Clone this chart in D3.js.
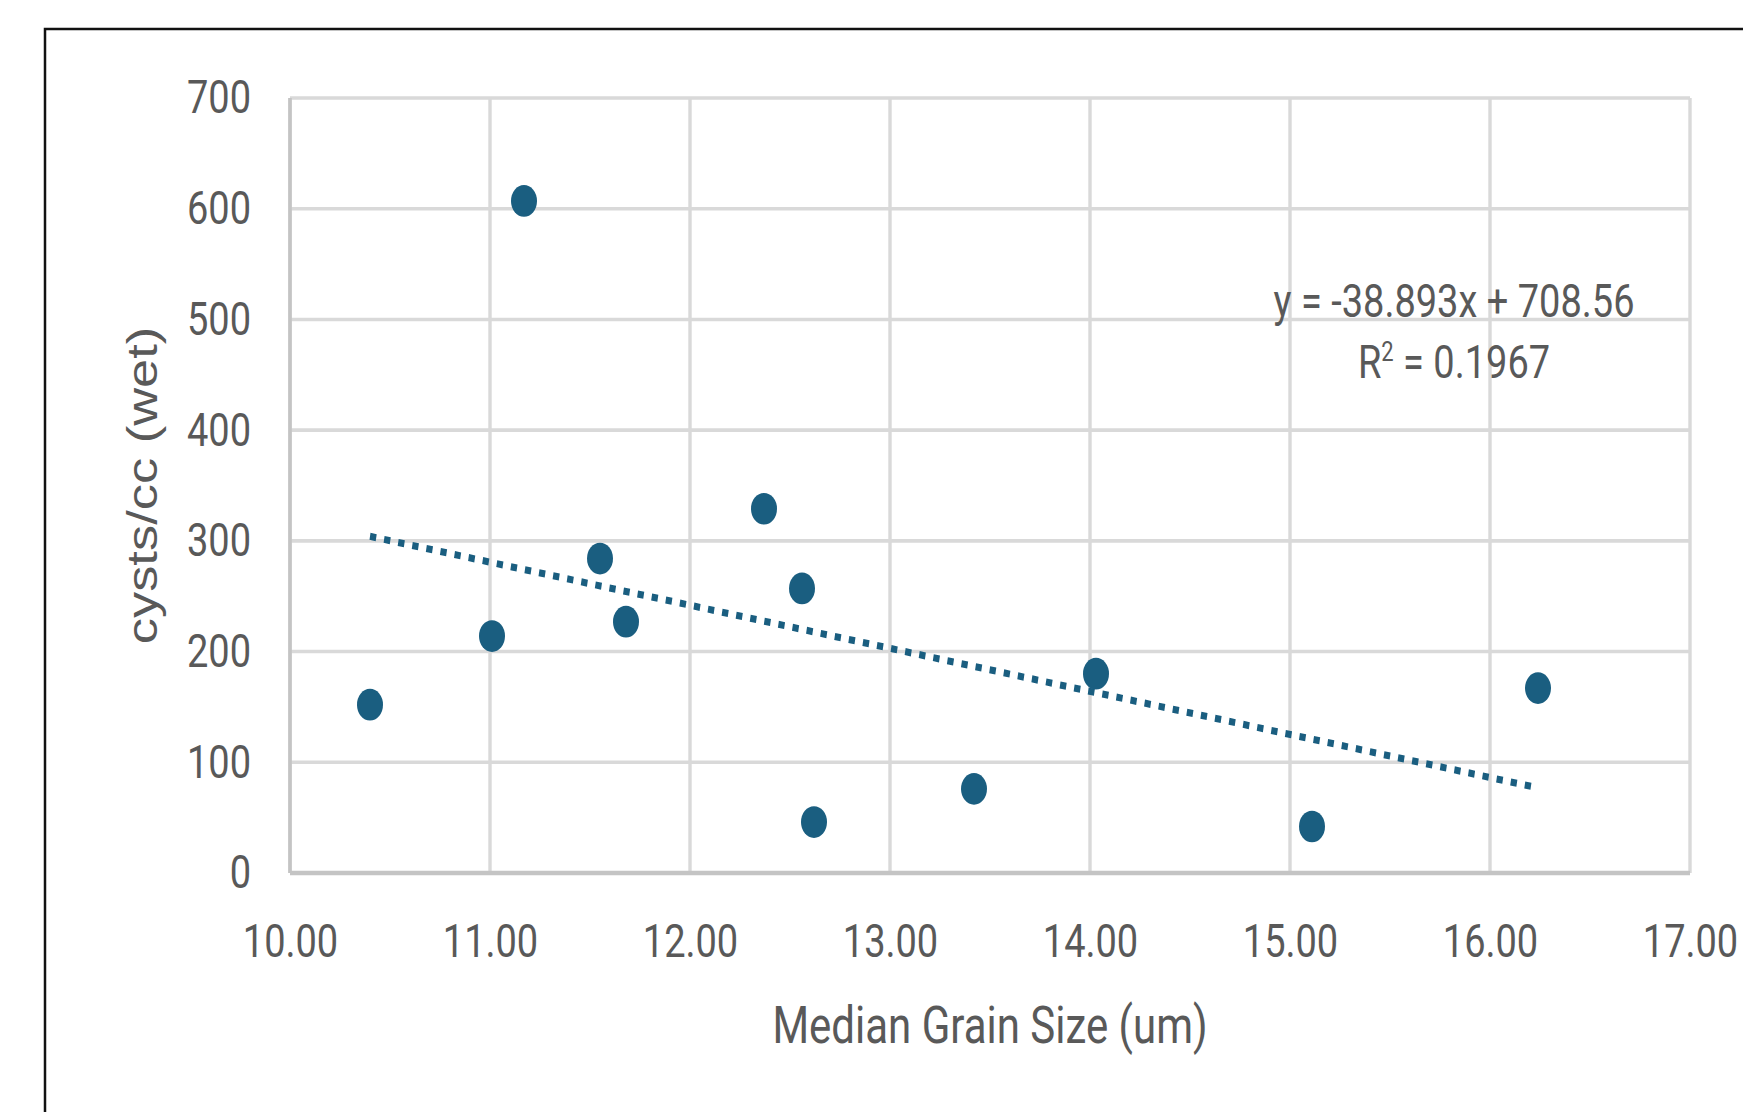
<!DOCTYPE html>
<html>
<head>
<meta charset="utf-8">
<script src="https://cdn.jsdelivr.net/npm/d3@7"></script>
<style>
  body { margin: 0; background: #fff; }
  svg { display: block; }
</style>
</head>
<body>
<div id="chart"></div>
<script>
// grain size (um) against cysts per cc
let grainSize = [10.40, 11.01, 11.17, 11.55, 11.68, 12.37, 12.56, 12.62, 13.42, 14.03, 15.11, 16.24];
let cysts = [152, 214, 607, 284, 227, 329, 257, 46, 76, 180, 42, 167];

let xTicks = [10, 11, 12, 13, 14, 15, 16, 17];
let yTicks = [0, 100, 200, 300, 400, 500, 600, 700];

// linear trendline printed on the chart
let slope = -38.893;
let intercept = 708.56;
let rSquared = 0.1967;

let xTitle = "Median Grain Size (um)";
let yTitle = "cysts/cc (wet)";

let width = 1743;
let height = 1112;

// the original picture is stretched vertically, so draw in a squashed
// space and scale it back up
let stretch = 1.22;

let plotLeft = 290;
let plotRight = 1690;
let plotTop = 98 / stretch;
let plotBottom = 873 / stretch;

let textColor = "#595959";
let markColor = "#1a5e80";

let svg = d3
  .select("#chart")
  .append("svg")
  .attr("width", width)
  .attr("height", height);

svg.append("rect")
  .attr("width", width)
  .attr("height", height)
  .attr("fill", "#fff");

let chart = svg.append("g").attr("transform", "scale(1," + stretch + ")");

let xScale = d3.scaleLinear().domain([10, 17]).range([plotLeft, plotRight]);
let yScale = d3.scaleLinear().domain([0, 700]).range([plotBottom, plotTop]);

// grid
chart.append("g")
  .selectAll("line")
  .data(yTicks)
  .enter()
  .append("line")
  .attr("x1", plotLeft)
  .attr("x2", plotRight)
  .attr("y1", d => yScale(d))
  .attr("y2", d => yScale(d))
  .attr("stroke", "#d9d9d9")
  .attr("stroke-width", 2.9);

chart.append("g")
  .selectAll("line")
  .data(xTicks)
  .enter()
  .append("line")
  .attr("x1", d => xScale(d))
  .attr("x2", d => xScale(d))
  .attr("y1", plotTop)
  .attr("y2", plotBottom)
  .attr("stroke", "#d9d9d9")
  .attr("stroke-width", 3.4);

// axis lines
chart.append("line")
  .attr("x1", plotLeft).attr("x2", plotRight)
  .attr("y1", plotBottom).attr("y2", plotBottom)
  .attr("stroke", "#c4c4c4")
  .attr("stroke-width", 3.6);

chart.append("line")
  .attr("x1", plotLeft).attr("x2", plotLeft)
  .attr("y1", plotTop).attr("y2", plotBottom)
  .attr("stroke", "#c4c4c4")
  .attr("stroke-width", 3.6);

// tick labels
let xAxis = d3.axisBottom(xScale)
  .tickValues(xTicks)
  .tickFormat(d3.format(".2f"))
  .tickSize(0)
  .tickPadding(42);

let yAxis = d3.axisLeft(yScale)
  .tickValues(yTicks)
  .tickFormat(d3.format("d"))
  .tickSize(0)
  .tickPadding(39);

chart.append("g")
  .attr("transform", "translate(0," + plotBottom + ")")
  .call(xAxis)
  .call(g => g.select(".domain").remove())
  .attr("font-family", "Roboto, sans-serif")
  .attr("font-size", 38)
  .attr("color", textColor);

chart.append("g")
  .attr("transform", "translate(" + plotLeft + ",0)")
  .call(yAxis)
  .call(g => g.select(".domain").remove())
  .attr("font-family", "Roboto, sans-serif")
  .attr("font-size", 38)
  .attr("color", textColor);

// trendline over the data range
let xExtent = d3.extent(grainSize);
chart.append("line")
  .attr("x1", xScale(xExtent[0]))
  .attr("y1", yScale(slope * xExtent[0] + intercept))
  .attr("x2", xScale(xExtent[1]))
  .attr("y2", yScale(slope * xExtent[1] + intercept))
  .attr("stroke", markColor)
  .attr("stroke-width", 5.8)
  .attr("stroke-dasharray", "6.3 8");

// points
chart.append("g")
  .selectAll("circle")
  .data(grainSize)
  .enter()
  .append("circle")
  .attr("cx", d => xScale(d))
  .attr("cy", (d, i) => yScale(cysts[i]))
  .attr("r", 13)
  .attr("fill", markColor);

// equation label
let eq = chart.append("g")
  .attr("font-family", "Roboto, sans-serif")
  .attr("font-size", 38)
  .attr("fill", textColor)
  .attr("text-anchor", "middle");

eq.append("text")
  .attr("x", 1454)
  .attr("y", 317 / stretch)
  .text("y = " + slope + "x + " + intercept);

let r2 = eq.append("text")
  .attr("x", 1454)
  .attr("y", 378 / stretch);
r2.append("tspan").text("R");
r2.append("tspan").attr("font-size", 22).attr("dy", -14).text("2");
r2.append("tspan").attr("dy", 14).text(" = " + rSquared);

// axis titles
chart.append("text")
  .attr("x", (plotLeft + plotRight) / 2)
  .attr("y", 1043 / stretch)
  .attr("text-anchor", "middle")
  .attr("font-family", "Roboto, sans-serif")
  .attr("font-size", 42)
  .attr("fill", textColor)
  .text(xTitle);

chart.append("text")
  .attr("transform", "translate(157," + (plotTop + plotBottom) / 2 + ")rotate(-90)")
  .attr("text-anchor", "middle")
  .attr("font-family", "'Liberation Sans', Arial, sans-serif")
  .attr("font-size", 43)
  .attr("fill", textColor)
  .text(yTitle);

// chart border, only its top and left edges are in view
svg.append("rect")
  .attr("x", 45)
  .attr("y", 29)
  .attr("width", 3000)
  .attr("height", 3000)
  .attr("fill", "none")
  .attr("stroke", "#111")
  .attr("stroke-width", 2.5);
</script>
</body>
</html>
